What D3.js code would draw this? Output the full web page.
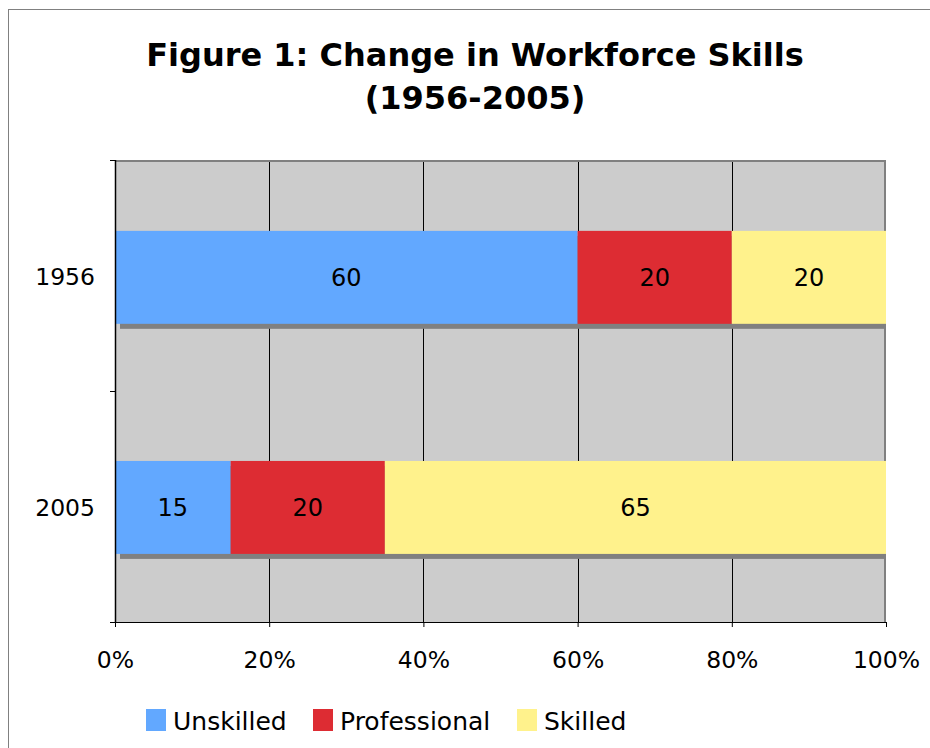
<!DOCTYPE html>
<html>
<head>
<meta charset="utf-8">
<script src="https://cdn.jsdelivr.net/npm/d3@7"></script>
<style>
  body { margin: 0; background: #fff; }
  svg text { font-family: "DejaVu Sans", Verdana, sans-serif; }
</style>
</head>
<body>
<div class="container"></div>
<script>
var years = ["1956", "2005"];
var seriesNames = ["Unskilled", "Professional", "Skilled"];
var unskilled = [60, 15];
var professional = [20, 20];
var skilled = [20, 65];
var tickLabels = ["0%", "20%", "40%", "60%", "80%", "100%"];
var colors = ["#62a8ff", "#dd2c33", "#fff28c"];

var width = 930, height = 748;
var margin = {left: 115, top: 160, right: 44, bottom: 126};
var plotW = width - margin.left - margin.right;
var plotH = height - margin.top - margin.bottom;

var svg = d3.select('.container').append('svg')
	.attr("width", width)
	.attr("height", height);

// outer chart frame (runs off the right and bottom)
svg.append('rect')
	.attr("x", 8.5).attr("y", 9.5)
	.attr("width", 940).attr("height", 760)
	.attr("fill", "#fff")
	.attr("stroke", "#808080")
	.attr("stroke-width", 1);

svg.append('text')
	.attr("x", 475).attr("y", 66)
	.attr("text-anchor", "middle")
	.style("font-size", "32px").style("font-weight", "bold")
	.text("Figure 1: Change in Workforce Skills");
svg.append('text')
	.attr("x", 475).attr("y", 109)
	.attr("text-anchor", "middle")
	.style("font-size", "32px").style("font-weight", "bold")
	.text("(1956-2005)");

var rows = years.map(function(y, i){
	var vals = [unskilled[i], professional[i], skilled[i]];
	var acc = 0;
	return {year: y, segs: vals.map(function(v, k){
		var s = {name: seriesNames[k], v: v, x0: acc, x1: acc + v};
		acc += v;
		return s;
	})};
});

var x = d3.scaleLinear().domain([0, 100]).range([0, plotW]);
var y = d3.scaleBand().domain(years).range([0, plotH])
	.paddingInner(0.596).paddingOuter(0.302).align(0.51);
var band = d3.scaleBand().domain(years).range([0, plotH]);

var g = svg.append('g').attr("transform", "translate(" + margin.left + "," + margin.top + ")");

g.append('rect')
	.attr("width", plotW).attr("height", plotH)
	.attr("fill", "#cccccc");

// vertical gridlines
g.selectAll('.grid').data(x.ticks(5).slice(1, -1)).enter()
	.append('line')
	.attr("class", "grid")
	.attr("x1", function(d){return Math.round(x(d)) + 0.5;})
	.attr("x2", function(d){return Math.round(x(d)) + 0.5;})
	.attr("y1", 0).attr("y2", plotH)
	.attr("stroke", "#000").attr("stroke-width", 1);

// plot border top / right
g.append('path')
	.attr("d", "M0," + 1 + "H" + (plotW - 1) + "V" + plotH)
	.attr("fill", "none")
	.attr("stroke", "#808080").attr("stroke-width", 2);

// bar shadows
g.selectAll('.shadow').data(rows).enter()
	.append('rect')
	.attr("class", "shadow")
	.attr("x", 5)
	.attr("y", function(d){return y(d.year) + 5;})
	.attr("width", plotW - 5)
	.attr("height", y.bandwidth())
	.attr("fill", "#808080");

var rowG = g.selectAll('.row').data(rows).enter()
	.append('g')
	.attr("class", "row")
	.attr("transform", function(d){return "translate(0," + y(d.year) + ")";});

rowG.selectAll('rect').data(function(d){return d.segs;}).enter()
	.append('rect')
	.attr("x", function(d){return x(d.x0);})
	.attr("width", function(d){return x(d.x1) - x(d.x0);})
	.attr("height", y.bandwidth())
	.attr("fill", function(d, i){return colors[i];});

rowG.selectAll('text').data(function(d){return d.segs;}).enter()
	.append('text')
	.attr("x", function(d){return x((d.x0 + d.x1) / 2);})
	.attr("y", y.bandwidth() / 2 + 9)
	.attr("text-anchor", "middle")
	.style("font-size", "24px")
	.text(function(d){return d.v;});

// x axis
var xAxis = g.append('g')
	.attr("transform", "translate(0," + plotH + ")")
	.call(d3.axisBottom(x).tickValues(x.ticks(5)).tickSize(5)
		.tickFormat(function(d, i){return tickLabels[i];}));
xAxis.select('.domain').attr("d", "M-5,0.5H" + plotW);
xAxis.selectAll('.tick text')
	.attr("dy", 0).attr("y", 46)
	.style("font-size", "23.5px")
	.style("font-family", '"DejaVu Sans", Verdana, sans-serif');

// y axis
var yAxis = g.append('g');
yAxis.append('line')
	.attr("x1", 0.5).attr("x2", 0.5)
	.attr("y1", 0).attr("y2", plotH)
	.attr("stroke", "#000").attr("stroke-width", 1.5);
yAxis.selectAll('.ytick').data([0, plotH / 2, plotH]).enter()
	.append('line')
	.attr("x1", -5).attr("x2", 0)
	.attr("y1", function(d){return d + 0.5;})
	.attr("y2", function(d){return d + 0.5;})
	.attr("stroke", "#000");
yAxis.selectAll('.ylabel').data(years).enter()
	.append('text')
	.attr("x", -20)
	.attr("y", function(d){return band(d) + band.bandwidth() / 2 + 9;})
	.attr("text-anchor", "end")
	.style("font-size", "23.5px")
	.text(function(d){return d;});

// legend
var legendX = [146, 313, 517];
var leg = svg.selectAll('.legend').data(seriesNames).enter()
	.append('g')
	.attr("class", "legend")
	.attr("transform", function(d, i){return "translate(" + legendX[i] + ",709)";});
leg.append('rect')
	.attr("width", 20).attr("height", 22)
	.attr("fill", function(d, i){return colors[i];});
leg.append('text')
	.attr("x", 27).attr("y", 21)
	.style("font-size", "25px")
	.text(function(d){return d;});
</script>
</body>
</html>
